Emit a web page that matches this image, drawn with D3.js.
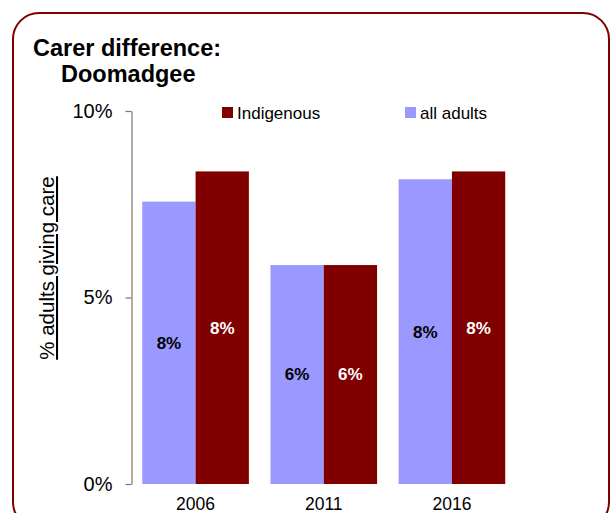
<!DOCTYPE html>
<html>
<head>
<meta charset="utf-8">
<script src="https://cdn.jsdelivr.net/npm/d3@7"></script>
<style>
  html, body { margin: 0; padding: 0; background: #fff; }
  svg { display: block; font-family: "Liberation Sans", Arial, Helvetica, sans-serif; }
</style>
</head>
<body>
<svg id="chart" width="613" height="513"></svg>
<script>
const categories = ["2006", "2011", "2016"];
const seriesNames = ["all adults", "Indigenous"];
const allAdults = [7.57, 5.87, 8.17];
const indigenous = [8.38, 5.87, 8.38];
const valueLabels = [["8%", "6%", "8%"], ["8%", "6%", "8%"]];
const yTicks = [0, 5, 10];
const yTickLabels = ["0%", "5%", "10%"];
const legendOrder = ["Indigenous", "all adults"];

const colors = { "all adults": "#9999ff", "Indigenous": "#800000" };
const labelColors = { "all adults": "#000000", "Indigenous": "#ffffff" };

const svg = d3.select("#chart");

// border frame
svg.append("rect")
  .attr("x", 13).attr("y", 13)
  .attr("width", 596).attr("height", 515)
  .attr("rx", 26).attr("ry", 26)
  .attr("fill", "none")
  .attr("stroke", "#800000")
  .attr("stroke-width", 2);

// title
const title = svg.append("text")
  .attr("font-weight", "bold")
  .attr("font-size", 23.5)
  .attr("fill", "#000");
title.append("tspan").attr("x", 33).attr("y", 56).text("Carer difference:");
title.append("tspan").attr("x", 61).attr("y", 82).text("Doomadgee");

const x0 = d3.scaleBand().domain(categories).range([131.5, 516]).paddingInner(0.168).paddingOuter(0.084);
const x1 = d3.scaleBand().domain(seriesNames).range([0, x0.bandwidth()]).padding(0);
const y = d3.scaleLinear().domain([0, 10]).range([484, 111]);

// y axis
const yAxis = d3.axisLeft(y).tickValues(yTicks)
  .tickFormat((d, i) => yTickLabels[i])
  .tickSize(6).tickSizeOuter(0).tickPadding(13);
const ga = svg.append("g").attr("transform", "translate(131.5,0)").call(yAxis);
ga.select(".domain").attr("stroke", "#777").attr("stroke-width", 1.2);
ga.selectAll(".tick line").attr("stroke", "#777").attr("stroke-width", 1.2);
ga.selectAll(".tick text").attr("font-size", 20).attr("fill", "#000")
  .attr("font-family", "Liberation Sans, Arial, sans-serif");

// y axis title
svg.append("text")
  .attr("transform", "translate(54,268) rotate(-90)")
  .attr("text-anchor", "middle")
  .attr("font-size", 20.5)
  .attr("text-decoration", "underline")
  .attr("fill", "#000")
  .text("% adults giving care");

// data table
const data = categories.map((c, i) => ({
  cat: c,
  values: [
    { key: "all adults", v: allAdults[i], label: valueLabels[0][i] },
    { key: "Indigenous", v: indigenous[i], label: valueLabels[1][i] }
  ]
}));

const groups = svg.selectAll("g.grp").data(data).join("g")
  .attr("class", "grp")
  .attr("transform", d => `translate(${x0(d.cat)},0)`);

groups.selectAll("rect").data(d => d.values).join("rect")
  .attr("x", d => x1(d.key))
  .attr("y", d => y(d.v))
  .attr("width", x1.bandwidth())
  .attr("height", d => y(0) - y(d.v))
  .attr("fill", d => colors[d.key]);

groups.selectAll("text.vl").data(d => d.values).join("text")
  .attr("class", "vl")
  .attr("x", d => x1(d.key) + x1.bandwidth() / 2)
  .attr("y", d => (y(d.v) + y(0)) / 2)
  .attr("dy", "0.35em")
  .attr("text-anchor", "middle")
  .attr("font-weight", "bold")
  .attr("font-size", 17)
  .attr("fill", d => labelColors[d.key])
  .text(d => d.label);

// x category labels
svg.selectAll("text.cat").data(categories).join("text")
  .attr("class", "cat")
  .attr("x", d => x0(d) + x0.bandwidth() / 2)
  .attr("y", 510)
  .attr("text-anchor", "middle")
  .attr("font-size", 17.5)
  .attr("fill", "#000")
  .text(d => d);

// legend
const legendX = [222, 405];
const lg = svg.selectAll("g.leg").data(legendOrder).join("g")
  .attr("class", "leg")
  .attr("transform", (d, i) => `translate(${legendX[i]},107)`);
lg.append("rect").attr("width", 11).attr("height", 11).attr("fill", d => colors[d]);
lg.append("text").attr("x", 15).attr("y", 12).attr("font-size", 17).attr("fill", "#000").text(d => d);
</script>
</body>
</html>
